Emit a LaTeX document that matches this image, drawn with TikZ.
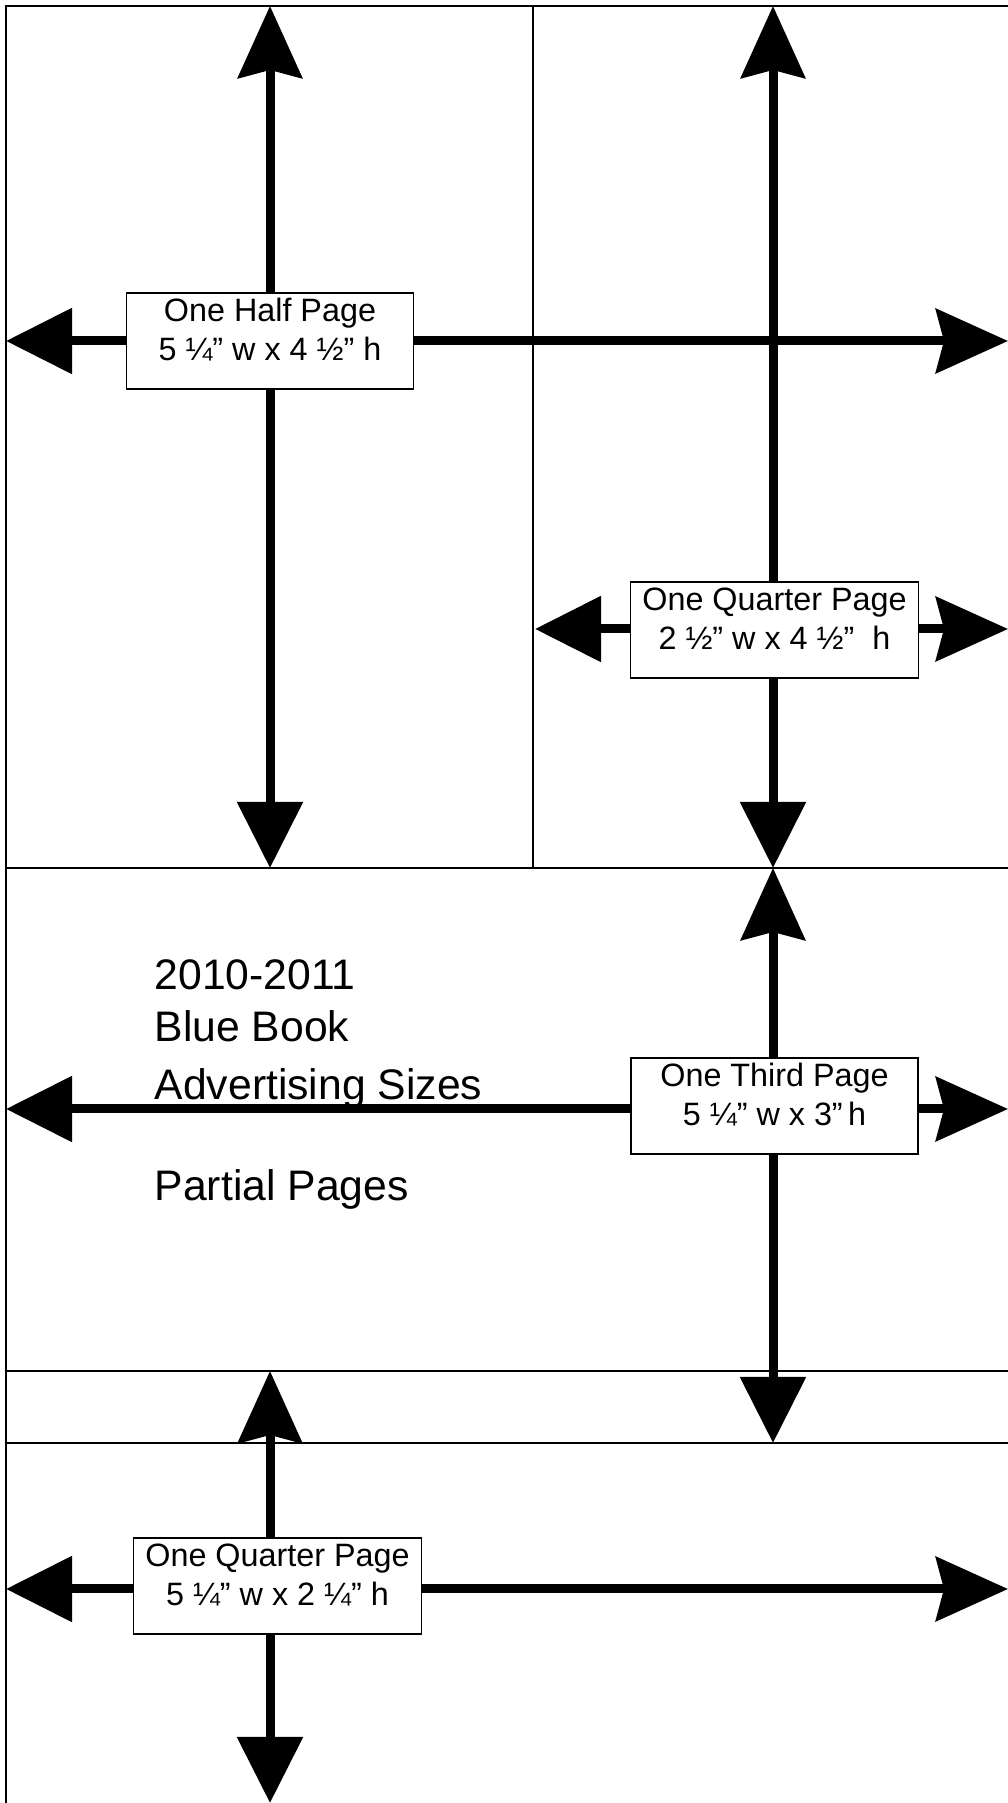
\documentclass[tikz,border=0pt]{standalone}
\usepackage{fontspec}
\setmainfont{Liberation Sans}
\usepackage{tikz}
\usetikzlibrary{arrows.meta}

\begin{document}
\begin{tikzpicture}[
    pageline/.style={line width=0.6pt},
    dimarrow/.style={line width=0.09cm, {Triangle[length=0.66cm, width=0.64cm]}-{Stealth[length=0.72cm, width=0.64cm, inset=0.08cm]}},
    sizebox/.style={rectangle, draw, line width=0.4pt, fill=white, minimum width=2.87cm, minimum height=0.96cm, inner ysep=0pt, align=center, font=\fontsize{9.2}{11.1}\selectfont, text depth=0.23cm},
    titletext/.style={anchor=base west, inner sep=0pt, font=\fontsize{12.15}{14}\selectfont}
]
\useasboundingbox (0,0) rectangle (10.08,18.03);

% Page layout
\draw[pageline] (0.06,0) -- (0.06,17.97) -- (10.08,17.97);
\draw[pageline] (5.33,17.97) -- (5.33,9.35);
\draw[pageline] (0.06,9.35) -- (10.08,9.35);
\draw[pageline] (0.06,4.32) -- (10.08,4.32);
\draw[pageline] (0.06,3.60) -- (10.08,3.60);

% Title
\node[titletext] (yearline) at (1.54,8.13) {2010-2011};
\node[titletext] (bookline) at (1.54,7.61) {Blue Book};
\node[titletext] (sizesline) at (1.54,7.03) {Advertising Sizes};
\node[titletext] (pagesline) at (1.54,6.02) {Partial Pages};

% One half page
\coordinate (halfN) at (2.70,17.97);
\coordinate (halfS) at (2.70,9.35);
\coordinate (halfW) at (0.06,14.62);
\coordinate (halfE) at (10.08,14.62);
\draw[dimarrow] (halfS) -- (halfN);
\draw[dimarrow] (halfW) -- (halfE);

% One quarter page (tall)
\coordinate (quarterN) at (7.73,17.97);
\coordinate (quarterS) at (7.73,9.35);
\coordinate (quarterW) at (5.35,11.74);
\coordinate (quarterE) at (10.08,11.74);
\draw[dimarrow] (quarterS) -- (quarterN);
\draw[dimarrow] (quarterW) -- (quarterE);

% One third page
\coordinate (thirdN) at (7.73,9.35);
\coordinate (thirdS) at (7.73,3.60);
\coordinate (thirdW) at (0.06,6.94);
\coordinate (thirdE) at (10.08,6.94);
\draw[dimarrow] (thirdS) -- (thirdN);
\draw[dimarrow] (thirdW) -- (thirdE);

% One quarter page (wide)
\coordinate (stripN) at (2.70,4.32);
\coordinate (stripS) at (2.70,0);
\coordinate (stripW) at (0.06,2.14);
\coordinate (stripE) at (10.08,2.14);
\draw[dimarrow] (stripS) -- (stripN);
\draw[dimarrow] (stripW) -- (stripE);

% Size labels
\node[sizebox] (halfbox) at (2.70,14.62) {One Half Page\\5 ¼” w x 4 ½” h};
\node[sizebox] (quarterbox) at (7.745,11.73) {One Quarter Page\\2 ½” w x 4 ½” ~h};
\node[sizebox] (thirdbox) at (7.745,6.97) {One Third Page\\5 ¼” w x 3”\,h};
\node[sizebox] (stripbox) at (2.775,2.17) {One Quarter Page\\5 ¼” w x 2 ¼” h};

\end{tikzpicture}
\end{document}
